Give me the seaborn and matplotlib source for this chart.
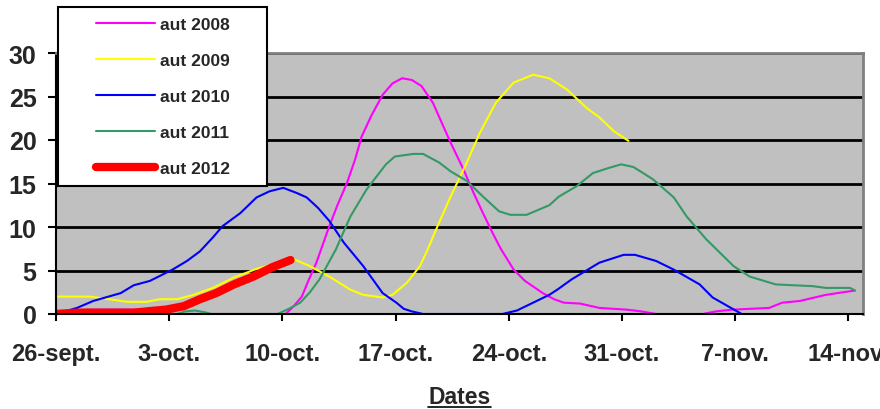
import seaborn as sns
import matplotlib.pyplot as plt
from matplotlib.patches import Rectangle
from matplotlib.lines import Line2D
from matplotlib.transforms import IdentityTransform

# days counted from 26 sept.
days_2008 = [0, 1, 2, 3, 4, 5, 6, 6.8, 14.2, 14.7, 15.2, 15.6, 16.1, 16.5, 16.9, 17.4, 18.0, 18.5,
             18.9, 19.5, 20.2, 20.8, 21.4, 22.0, 22.6, 23.3, 23.8, 24.4, 25.2, 25.8, 26.4, 27.0,
             27.5, 28.3, 29.0, 30.1, 30.8, 31.4, 32.4, 33.6, 35.3, 36.2, 37.1, 40.0, 40.8, 41.8,
             44.1, 44.9, 46.0, 47.6, 49.4]
vals_2008 = [0.2, 0.4, 0.5, 0.5, 0.5, 0.5, 0.4, 0.0, 0.0, 0.9, 2.0, 3.8, 5.9, 8.0, 10.1, 12.5, 15.1, 17.8,
             20.4, 22.8, 25.2, 26.5, 27.1, 26.9, 26.2, 24.3, 22.2, 19.7, 16.6, 14.0, 11.6, 9.3,
             7.5, 5.1, 3.8, 2.4, 1.7, 1.3, 1.2, 0.7, 0.5, 0.3, 0.0, 0.0, 0.3, 0.5,
             0.7, 1.3, 1.5, 2.2, 2.7]

days_2009 = [0, 1, 2.1, 3.3, 4.4, 5.6, 6.4, 7.5, 8.5, 9.7, 11.0, 12.0, 12.4, 13.6, 14.7, 15.2, 15.7,
             16.9, 18.2, 19.0, 20.2, 20.8, 21.7, 22.5, 23.0, 23.5, 24.4, 25.4, 26.2, 27.2, 28.3,
             29.5, 30.5, 31.6, 32.8, 33.6, 34.5, 35.4]
vals_2009 = [2.0, 2.0, 2.0, 1.7, 1.4, 1.4, 1.7, 1.7, 2.2, 3.0, 4.2, 4.9, 5.2, 5.8, 6.3, 5.9, 5.5,
             4.3, 2.8, 2.2, 1.9, 2.2, 3.6, 5.5, 7.5, 9.7, 13.5, 17.4, 20.8, 24.3, 26.6,
             27.5, 27.1, 25.8, 23.7, 22.6, 21.0, 19.9]

days_2010 = [0, 1.3, 2.3, 4.0, 4.8, 5.8, 7.2, 8.1, 8.9, 9.7, 10.3, 11.4, 12.4, 13.2, 14.05, 14.9, 15.5,
             16.2, 16.9, 17.8, 19.0, 20.2, 21.05, 21.5, 22.0, 22.7, 27.6, 28.5, 29.5, 30.5, 31.0,
             31.9, 33.6, 35.1, 35.8, 37.1, 38.2, 39.8, 40.6, 42.4]
vals_2010 = [0, 0.7, 1.5, 2.4, 3.3, 3.8, 5.1, 6.1, 7.2, 8.8, 10.1, 11.6, 13.4, 14.1, 14.5, 13.9, 13.4,
             12.2, 10.7, 8.2, 5.5, 2.4, 1.3, 0.6, 0.3, 0, 0, 0.4, 1.3, 2.2, 2.8,
             4.0, 5.9, 6.8, 6.8, 6.1, 5.1, 3.4, 1.9, 0]

days_2011 = [0, 7.5, 8.0, 8.6, 9.2, 9.6, 13.7, 14.4, 15.1, 15.7, 16.3, 17.3, 18.2, 19.2, 20.4, 20.95,
             22.1, 22.7, 23.7, 24.4, 25.4, 26.4, 27.4, 28.1, 29.1, 30.5, 31.1, 32.2, 33.2, 34.2,
             34.95, 35.7, 36.9, 38.2, 39.0, 40.2, 41.9, 42.9, 44.5, 46.8, 47.6, 49.1, 49.4]
vals_2011 = [0, 0, 0.3, 0.4, 0.2, 0, 0, 0.6, 1.3, 2.5, 4.0, 7.4, 11.2, 14.3, 17.2, 18.1,
             18.4, 18.4, 17.4, 16.4, 15.3, 13.5, 11.8, 11.4, 11.4, 12.5, 13.5, 14.7, 16.2, 16.8,
             17.2, 16.9, 15.5, 13.4, 11.2, 8.6, 5.5, 4.3, 3.4, 3.2, 3.0, 3.0, 2.7]

days_2012 = [0, 1.3, 3, 4.8, 6.2, 6.8, 7.9, 8.9, 9.9, 11.0, 12.2, 13.4, 14.5]
vals_2012 = [0, 0.15, 0.15, 0.15, 0.4, 0.5, 0.9, 1.7, 2.4, 3.4, 4.3, 5.4, 6.2]

tick_days = [0, 7, 14, 21, 28, 35, 42, 49]
tick_labels = ['26-sept.', '3-oct.', '10-oct.', '17-oct.', '24-oct.', '31-oct.', '7-nov.', '14-nov.']

series = [
    ('aut 2008', days_2008, vals_2008, '#ff00ff', 1.5),
    ('aut 2009', days_2009, vals_2009, '#ffff00', 1.5),
    ('aut 2010', days_2010, vals_2010, '#0000ff', 1.5),
    ('aut 2011', days_2011, vals_2011, '#339966', 1.5),
    ('aut 2012', days_2012, vals_2012, '#ff0000', 6),
]

sns.set_theme(style="ticks")
plt.rcParams['font.family'] = ['Liberation Sans', 'DejaVu Sans']
plt.rcParams['font.weight'] = 'bold'

fig = plt.figure(figsize=(8.8, 4.1), dpi=100)
ax = fig.add_axes([56 / 880, 1 - 315 / 410, (863 - 56) / 880, (315 - 54) / 410])
ax.set_facecolor('#c0c0c0')

for label, d, v, col, lw in series:
    sns.lineplot(x=d, y=v, ax=ax, color=col, linewidth=lw, sort=False,
                 solid_capstyle='round', legend=False)

ax.set_xlim(0, 49.9)
ax.set_ylim(0, 30)
ax.set_xticks(tick_days)
ax.set_xticklabels(tick_labels)
ax.set_yticks(range(0, 31, 5))
ax.tick_params(axis='x', labelsize=17, length=5, width=1.5, pad=15, color='black')
ax.tick_params(axis='y', labelsize=18, length=6, width=1.5, pad=8, color='black')
ax.grid(axis='y', color='black', linewidth=2)
ax.grid(axis='x', visible=False)
ax.set_axisbelow(True)
for s in ['left', 'bottom']:
    ax.spines[s].set_color('black')
    ax.spines[s].set_linewidth(1.5)
for s in ['top', 'right']:
    ax.spines[s].set_color('#808080')
    ax.spines[s].set_linewidth(2)

lbl = ax.set_xlabel('Dates', fontsize=16.5, fontweight='bold', labelpad=14.5)

# legend box
fig.add_artist(Rectangle((58 / 880, 1 - 187 / 410), 209 / 880, 179 / 410,
                         transform=fig.transFigure, facecolor='white',
                         edgecolor='black', linewidth=1.5, zorder=1))
handles = [Line2D([], [], color=c, linewidth=w, solid_capstyle='round') for _, _, _, c, w in series]
labels = [s[0] for s in series]
fig.legend(handles, labels, loc='upper left', bbox_to_anchor=(96 / 880, 1 - 18 / 410),
           frameon=False, fontsize=12.5, handlelength=3.4, handletextpad=0.3,
           labelspacing=1.2, borderpad=0, borderaxespad=0)

# underline under "Dates"
fig.canvas.draw()
bb = lbl.get_window_extent()
fig.add_artist(Line2D([bb.x0, bb.x1], [bb.y0 + 1, bb.y0 + 1], color='black',
                      linewidth=1.2, transform=IdentityTransform()))

fig.savefig('out.png', dpi=100)
